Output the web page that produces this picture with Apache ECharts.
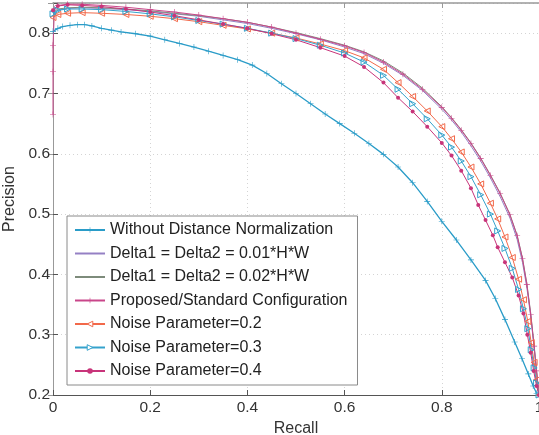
<!DOCTYPE html>
<html lang="en">
<head>
    <meta charset="UTF-8">
    <title>Precision-Recall</title>
    <script src="https://cdn.jsdelivr.net/npm/echarts@6/dist/echarts.min.js"></script>
</head>
<body style="margin: 0">
<div id="main" style="width: 539px;height: 435px"></div>

<script>
    // legend names
    const names = [
        'Without Distance Normalization',
        'Delta1 = Delta2 = 0.01*H*W',
        'Delta1 = Delta2 = 0.02*H*W',
        'Proposed/Standard Configuration',
        'Noise Parameter=0.2',
        'Noise Parameter=0.3',
        'Noise Parameter=0.4'
    ];

    // [recall, precision]
    const withoutNorm = [[0,0.803],[0.01,0.808],[0.02,0.811],[0.035,0.813],[0.05,0.814],[0.065,0.814],[0.08,0.812],[0.1,0.808],[0.12,0.805],[0.14,0.802],[0.17,0.799],[0.2,0.795],[0.23,0.789],[0.26,0.783],[0.29,0.777],[0.32,0.770],[0.35,0.763],[0.38,0.756],[0.41,0.747],[0.44,0.733],[0.47,0.716],[0.5,0.700],[0.53,0.683],[0.56,0.666],[0.59,0.650],[0.62,0.634],[0.65,0.617],[0.68,0.599],[0.71,0.578],[0.74,0.552],[0.77,0.521],[0.8,0.488],[0.83,0.457],[0.86,0.424],[0.89,0.390],[0.91,0.360],[0.93,0.325],[0.95,0.288],[0.965,0.260],[0.978,0.235],[0.988,0.215],[0.995,0.203]];

    const delta001 = [[0,0.832],[0.01,0.838],[0.03,0.841],[0.06,0.842],[0.1,0.841],[0.15,0.839],[0.2,0.836],[0.25,0.832],[0.3,0.828],[0.35,0.822],[0.4,0.816],[0.45,0.808],[0.5,0.799],[0.55,0.789],[0.6,0.777],[0.64,0.766],[0.68,0.750],[0.72,0.730],[0.76,0.705],[0.8,0.674],[0.82,0.656],[0.84,0.636],[0.86,0.613],[0.88,0.588],[0.9,0.560],[0.92,0.529],[0.94,0.494],[0.955,0.458],[0.966,0.420],[0.975,0.378],[0.983,0.330],[0.99,0.278],[0.995,0.238],[1,0.2]];

    const delta002 = [[0,0.834],[0.01,0.840],[0.03,0.842],[0.06,0.843],[0.1,0.842],[0.15,0.840],[0.2,0.837],[0.25,0.833],[0.3,0.829],[0.35,0.824],[0.4,0.818],[0.45,0.810],[0.5,0.801],[0.55,0.791],[0.6,0.780],[0.64,0.769],[0.68,0.754],[0.72,0.734],[0.76,0.709],[0.8,0.678],[0.82,0.660],[0.84,0.640],[0.86,0.618],[0.88,0.593],[0.9,0.565],[0.92,0.535],[0.94,0.500],[0.955,0.465],[0.966,0.427],[0.975,0.385],[0.983,0.335],[0.99,0.282],[0.995,0.240],[1,0.2]];

    const proposed = [[0,0.665],[0,0.736],[0,0.780],[0.003,0.840],[0.01,0.846],[0.03,0.848],[0.06,0.848],[0.1,0.846],[0.15,0.843],[0.2,0.839],[0.25,0.835],[0.3,0.830],[0.35,0.824],[0.4,0.818],[0.45,0.810],[0.5,0.800],[0.55,0.790],[0.6,0.779],[0.64,0.768],[0.68,0.752],[0.72,0.732],[0.76,0.707],[0.8,0.677],[0.82,0.659],[0.84,0.639],[0.86,0.617],[0.88,0.592],[0.9,0.564],[0.92,0.534],[0.94,0.499],[0.955,0.464],[0.966,0.426],[0.975,0.383],[0.983,0.333],[0.99,0.281],[0.995,0.240],[1,0.2]];

    const noise02 = [[0,0.826],[0.01,0.831],[0.03,0.833],[0.06,0.834],[0.1,0.833],[0.15,0.831],[0.2,0.828],[0.25,0.824],[0.3,0.819],[0.35,0.813],[0.4,0.807],[0.45,0.800],[0.5,0.792],[0.55,0.782],[0.6,0.771],[0.64,0.759],[0.68,0.740],[0.71,0.718],[0.74,0.695],[0.77,0.671],[0.8,0.645],[0.82,0.625],[0.84,0.603],[0.86,0.578],[0.88,0.550],[0.9,0.518],[0.915,0.492],[0.93,0.462],[0.945,0.428],[0.958,0.392],[0.968,0.358],[0.977,0.322],[0.984,0.287],[0.99,0.254],[0.995,0.225],[1,0.2]];

    const noise03 = [[0,0.832],[0.01,0.838],[0.03,0.840],[0.06,0.840],[0.1,0.839],[0.15,0.836],[0.2,0.832],[0.25,0.827],[0.3,0.821],[0.35,0.815],[0.4,0.808],[0.45,0.800],[0.5,0.791],[0.55,0.780],[0.6,0.767],[0.64,0.752],[0.68,0.730],[0.71,0.707],[0.74,0.683],[0.77,0.658],[0.8,0.631],[0.82,0.611],[0.84,0.588],[0.86,0.562],[0.88,0.532],[0.9,0.500],[0.915,0.472],[0.93,0.443],[0.945,0.410],[0.958,0.375],[0.968,0.343],[0.977,0.310],[0.984,0.275],[0.99,0.245],[0.995,0.220],[1,0.2]];

    const noise04 = [[0,0.838],[0.01,0.845],[0.03,0.847],[0.06,0.846],[0.1,0.844],[0.15,0.840],[0.2,0.835],[0.25,0.829],[0.3,0.822],[0.35,0.815],[0.4,0.808],[0.45,0.799],[0.5,0.789],[0.55,0.776],[0.6,0.762],[0.64,0.744],[0.68,0.718],[0.71,0.693],[0.74,0.670],[0.77,0.645],[0.8,0.618],[0.82,0.597],[0.84,0.572],[0.86,0.543],[0.875,0.515],[0.89,0.490],[0.905,0.465],[0.915,0.445],[0.93,0.420],[0.945,0.395],[0.958,0.365],[0.968,0.335],[0.976,0.300],[0.983,0.270],[0.989,0.240],[0.995,0.215],[1,0.2]];

    const xTicks = [0, 0.2, 0.4, 0.6, 0.8, 1];

    const colors = ['#2a9cc8', '#9580c4', '#7d8b7b', '#c9468a', '#f2694a', '#35a2cc', '#c8347a'];

    const plus = 'path://M4.5 0H5.5V4.5H10V5.5H5.5V10H4.5V5.5H0V4.5H4.5Z';
    const font = 'Liberation Sans, Arial, sans-serif';

    const chart = echarts.init(document.getElementById('main'));

    function yLabel(v) {
        return Math.abs(v * 10 - Math.round(v * 10)) < 1e-6 ? (+v.toFixed(1)).toString() : '';
    }

    // legend icons: plain line for the Delta series, hollow triangles for noise 0.2 / 0.3
    const legendData = names.map((n, i) => {
        if (i === 1 || i === 2) {
            return {name: n, itemStyle: {color: 'rgba(0,0,0,0)', borderWidth: 0, opacity: 0}};
        }
        if (i === 4 || i === 5) {
            return {name: n, itemStyle: {color: '#fff', borderColor: colors[i], borderWidth: 1}};
        }
        return {name: n};
    });

    const option = {
        animation: false,
        backgroundColor: '#fff',
        grid: {left: 53, right: 0, top: 3, bottom: 40, containLabel: false, outerBoundsMode: 'none'},
        legend: {
            orient: 'vertical',
            left: 67,
            top: 216,
            padding: [6, 10, 6, 7],
            itemWidth: 30,
            itemHeight: 7,
            itemGap: 7.5,
            borderColor: '#8a8a8a',
            borderWidth: 1,
            backgroundColor: '#fff',
            textStyle: {fontSize: 16, color: '#222', fontFamily: font},
            data: legendData
        },
        xAxis: [{
            type: 'value',
            min: 0, max: 1, interval: 0.2,
            name: 'Recall',
            nameLocation: 'middle',
            nameGap: 22,
            nameTextStyle: {fontSize: 16, color: '#333', fontFamily: font},
            axisLine: {lineStyle: {color: '#555', width: 1}},
            axisTick: {inside: true, length: 5, lineStyle: {color: '#555'}},
            axisLabel: {fontSize: 15.5, color: '#333', fontFamily: font, margin: 5,
                formatter: v => xTicks.indexOf(+v.toFixed(1)) >= 0 ? (+v.toFixed(1)).toString() : ''},
            splitLine: {show: true, lineStyle: {color: '#d4d4d4', type: [1, 3]}}
        }, {
            type: 'value',
            position: 'top',
            min: 0, max: 1, interval: 0.2,
            axisLine: {lineStyle: {color: '#999', width: 1.5}},
            axisTick: {inside: true, length: 5, lineStyle: {color: '#999'}},
            axisLabel: {show: false},
            splitLine: {show: false}
        }],
        yAxis: [{
            type: 'value',
            min: 0.2, max: 0.85, interval: 0.1,
            name: 'Precision',
            nameLocation: 'middle',
            nameGap: 31,
            nameTextStyle: {fontSize: 16, color: '#333', fontFamily: font},
            axisLine: {show: true, lineStyle: {color: '#555', width: 1}},
            axisTick: {show: true, inside: true, length: 5, lineStyle: {color: '#555'}},
            axisLabel: {fontSize: 15.5, color: '#333', fontFamily: font, margin: 3, formatter: yLabel},
            splitLine: {show: true, lineStyle: {color: '#d4d4d4', type: [1, 3]}}
        }, {
            type: 'value',
            position: 'right',
            min: 0.2, max: 0.85, interval: 0.1,
            axisLine: {show: true, lineStyle: {color: '#999', width: 1}},
            axisTick: {show: true, inside: true, length: 5, lineStyle: {color: '#999'}},
            axisLabel: {show: false},
            splitLine: {show: false}
        }],
        series: [
            {
                name: names[0], type: 'line', data: withoutNorm,
                symbol: plus, symbolSize: 6,
                itemStyle: {color: colors[0]},
                lineStyle: {color: colors[0], width: 1.3}
            },
            {
                name: names[1], type: 'line', data: delta001,
                symbol: 'none',
                itemStyle: {color: colors[1]},
                lineStyle: {color: colors[1], width: 1}
            },
            {
                name: names[2], type: 'line', data: delta002,
                symbol: 'none',
                itemStyle: {color: colors[2]},
                lineStyle: {color: colors[2], width: 1}
            },
            {
                name: names[3], type: 'line', data: proposed,
                symbol: plus, symbolSize: 6,
                itemStyle: {color: colors[3]},
                lineStyle: {color: colors[3], width: 1}
            },
            {
                name: names[4], type: 'line', data: noise02,
                symbol: 'triangle', symbolRotate: 90, symbolSize: 6,
                itemStyle: {color: 'rgba(255,255,255,0)', borderColor: colors[4], borderWidth: 1},
                lineStyle: {color: colors[4], width: 1}
            },
            {
                name: names[5], type: 'line', data: noise03,
                symbol: 'triangle', symbolRotate: -90, symbolSize: 6,
                itemStyle: {color: 'rgba(255,255,255,0)', borderColor: colors[5], borderWidth: 1},
                lineStyle: {color: colors[5], width: 1}
            },
            {
                name: names[6], type: 'line', data: noise04,
                symbol: 'circle', symbolSize: 4,
                itemStyle: {color: colors[6]},
                lineStyle: {color: colors[6], width: 1}
            }
        ]
    };

    chart.setOption(option);
</script>
</body>
</html>
